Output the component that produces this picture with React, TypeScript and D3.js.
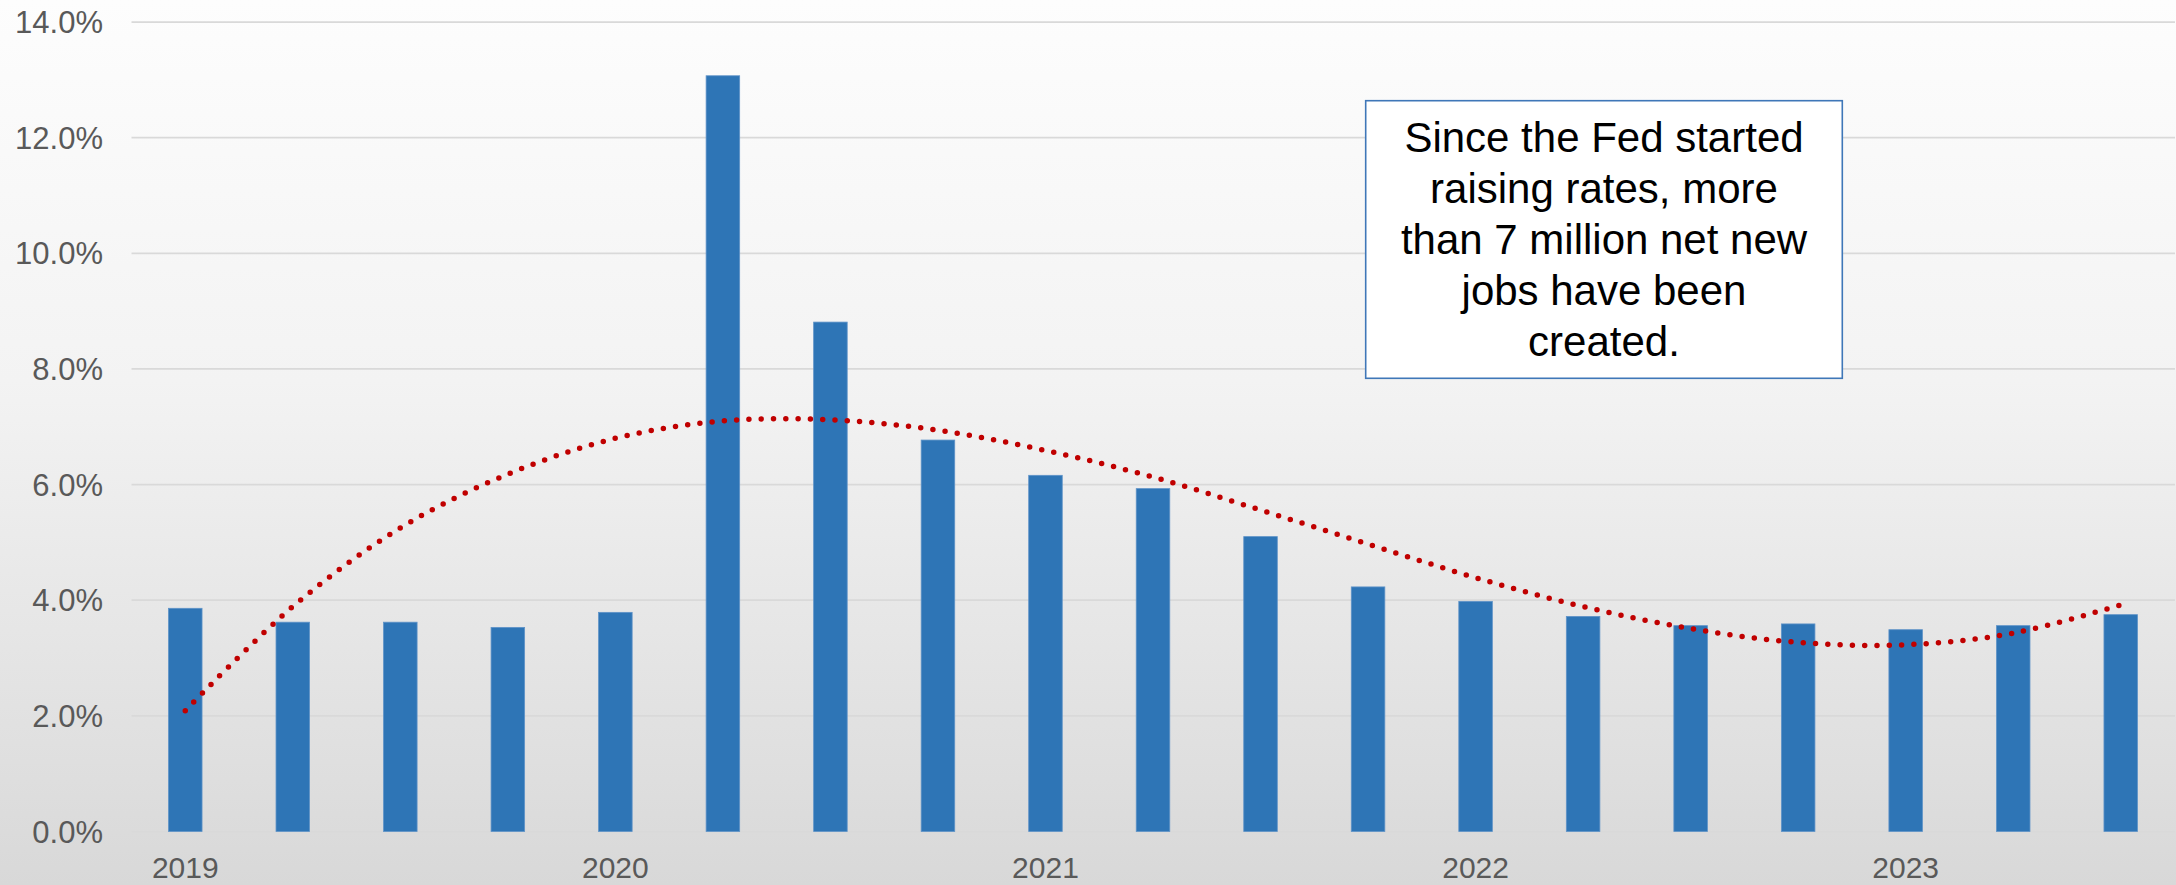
import React from "react";
import * as d3 from "d3";

const quarters = [
  "2019 Q1", "2019 Q2", "2019 Q3", "2019 Q4",
  "2020 Q1", "2020 Q2", "2020 Q3", "2020 Q4",
  "2021 Q1", "2021 Q2", "2021 Q3", "2021 Q4",
  "2022 Q1", "2022 Q2", "2022 Q3", "2022 Q4",
  "2023 Q1", "2023 Q2", "2023 Q3",
];
const values = [3.86, 3.62, 3.62, 3.53, 3.79, 13.07, 8.81, 6.77, 6.16, 5.93, 5.1, 4.23, 3.98, 3.72, 3.56, 3.59, 3.49, 3.56, 3.75];
const trendValues = [2.09, 3.89, 5.25, 6.18, 6.8, 7.1, 7.12, 6.94, 6.59, 6.13, 5.56, 4.97, 4.39, 3.89, 3.51, 3.27, 3.23, 3.43, 3.92];
const yTicks = [0, 2, 4, 6, 8, 10, 12, 14];
const yearLabels = [
  { q: "2019 Q1", label: "2019" },
  { q: "2020 Q1", label: "2020" },
  { q: "2021 Q1", label: "2021" },
  { q: "2022 Q1", label: "2022" },
  { q: "2023 Q1", label: "2023" },
];
const noteLines = [
  "Since the Fed started",
  "raising rates, more",
  "than 7 million net new",
  "jobs have been",
  "created.",
];

const W = 2176;
const H = 885;
const FONT = "'Liberation Sans', Arial, sans-serif";

export default function App() {
  const x = d3.scaleBand<string>().domain(quarters).range([131.5, 2174.5]).paddingInner(0.688).paddingOuter(0.344);
  const y = d3.scaleLinear().domain([0, 14]).range([831.5, 22]);
  const line = d3
    .line<number>()
    .x((_, i) => (x(quarters[i]) as number) + x.bandwidth() / 2)
    .y((d) => y(d))
    .curve(d3.curveCatmullRom.alpha(0.5));

  return (
    <svg width={W} height={H} style={{ position: "absolute", left: 0, top: 0 }}>
      <defs>
        <linearGradient id="bg" x1="0" y1="0" x2="0" y2="1">
          <stop offset="0" stopColor="#fdfdfd" />
          <stop offset="0.43" stopColor="#f3f3f3" />
          <stop offset="0.84" stopColor="#e0e0e0" />
          <stop offset="1" stopColor="#d8d8d8" />
        </linearGradient>
      </defs>
      <rect x={0} y={0} width={W} height={H} fill="url(#bg)" />
      {yTicks.map((t) => (
        <g key={t}>
          <line x1={131.5} x2={2175} y1={y(t)} y2={y(t)} stroke="#d9d9d9" strokeWidth={1.75} />
          <text x={103} y={y(t) + 11} textAnchor="end" fontFamily={FONT} fontSize={31} fill="#595959">
            {t.toFixed(1) + "%"}
          </text>
        </g>
      ))}
      {values.map((v, i) => (
        <rect
          key={i}
          x={x(quarters[i])}
          y={y(v)}
          width={x.bandwidth()}
          height={y(0) - y(v)}
          fill="#2e75b6"
          stroke="#5f93c8"
          strokeWidth={0.8}
        />
      ))}
      <path
        d={line(trendValues) || ""}
        fill="none"
        stroke="#c00000"
        strokeWidth={5.5}
        strokeLinecap="round"
        strokeDasharray="0 12.3"
      />
      {yearLabels.map((yl) => (
        <text
          key={yl.label}
          x={(x(yl.q) as number) + x.bandwidth() / 2}
          y={878}
          textAnchor="middle"
          fontFamily={FONT}
          fontSize={30}
          fill="#595959"
        >
          {yl.label}
        </text>
      ))}
      <rect x={1365.7} y={100.7} width={476.6} height={277.6} fill="#ffffff" stroke="#3f77b8" strokeWidth={1.6} />
      {noteLines.map((ln, i) => (
        <text
          key={i}
          x={1604}
          y={151.7 + i * 51.1}
          textAnchor="middle"
          fontFamily={FONT}
          fontSize={42}
          fill="#000000"
        >
          {ln}
        </text>
      ))}
    </svg>
  );
}
